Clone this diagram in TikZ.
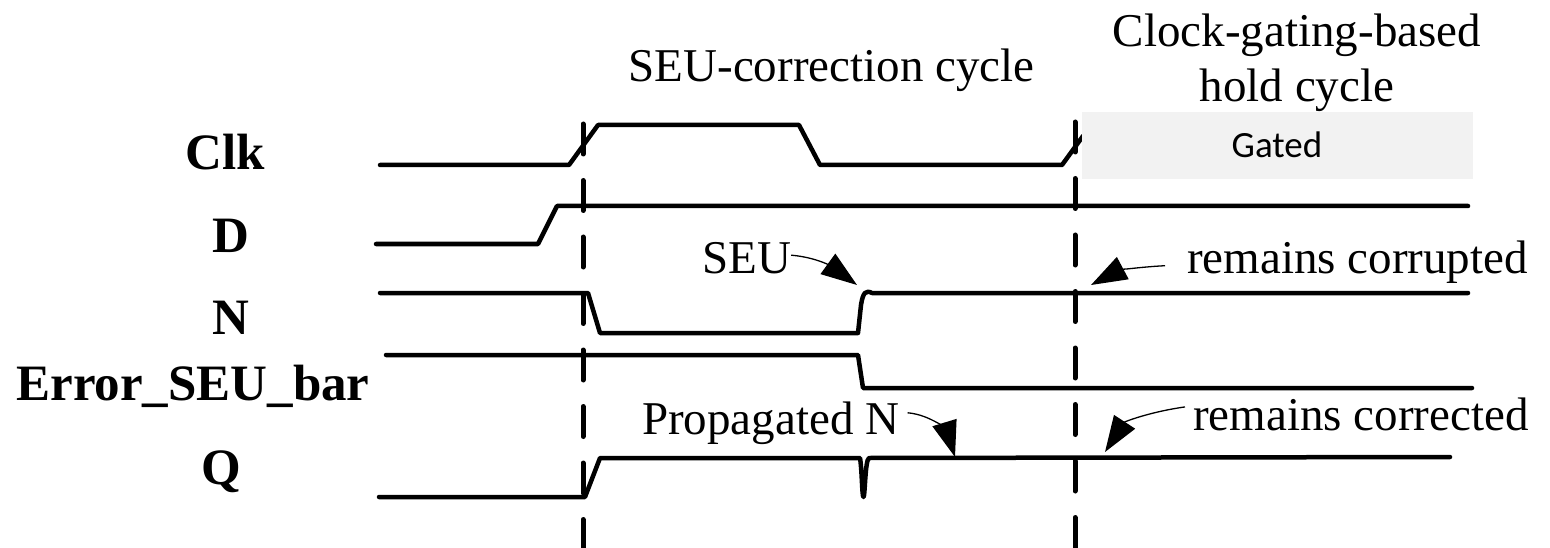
\documentclass[tikz,border=0pt]{standalone}
\usepackage{fontspec}
\setmainfont{Liberation Serif}
\newfontfamily\gatedfont{Carlito}
\usetikzlibrary{arrows.meta}
\tikzset{
  wave/.style={line width=4.5pt, line cap=round, line join=round},
  vline/.style={line width=5pt, line cap=round, dash pattern=on 30pt off 26.5pt},
  callout/.style={line width=1.3pt, -{Triangle[length=36pt,width=25pt]}},
  sig/.style={inner sep=0pt, anchor=base, font=\fontsize{51}{55}\selectfont\bfseries},
  txt/.style={inner sep=0pt, font=\fontsize{47}{55}\selectfont},
  gatebox/.style={fill=gray!10, draw=none}
}
\begin{document}
\begin{tikzpicture}[x=1pt,y=-1pt]
\useasboundingbox (0,0) rectangle (1550,548);
% signal names
\node[sig] (lclk) at (225,170) {Clk};
\node[sig] (ld) at (231,252) {D};
\node[sig] (ln) at (231,334) {N};
\node[sig] (lerr) at (193,400) {Error\_SEU\_bar};
\node[sig] (lq) at (221,484) {Q};
% titles
\node[txt, anchor=base] (t1) at (831.5,82) {SEU-correction cycle};
\node[txt, anchor=base] (t2a) at (1297,47) {Clock-gating-based};
\node[txt, anchor=base] (t2b) at (1297,102) {hold cycle};
% waveforms
\draw[wave] (380,165) -- (569,165) -- (598,125) -- (799,125) -- (820,165) -- (1062,165) -- (1083,136);
\draw[wave] (376,244) -- (538,244) -- (557,206) -- (1468,206);
\draw[wave] (380,293) -- (588,293) -- (600,333) -- (858,333) -- (861,305) .. controls (863,292) and (866,290) .. (872,293) -- (1468,293);
\draw[wave] (386,355) -- (858,355) -- (863,388) -- (1472,388);
\draw[wave] (379,497) -- (585,497) -- (600,458) -- (860,458) .. controls (862,470) and (862,497) .. (863.5,497) .. controls (865,497) and (865,460) .. (869,458) -- (1450,457);
% gated box
\node[gatebox, minimum width=391pt, minimum height=67pt, inner sep=0pt] (gbox) at (1277.5,145.5) {};
\node[inner sep=0pt, font=\gatedfont\fontsize{37}{40}\selectfont] (gtxt) at (1277,145) {Gated};
% cycle boundaries
\coordinate (b1t) at (583,124);
\coordinate (b1b) at (583,560);
\coordinate (b2t) at (1075,122);
\coordinate (b2b) at (1075,560);
\draw[vline] (b1t) -- (b1b);
\draw[vline] (b2t) -- (b2b);
% annotations
\node[txt, anchor=base west] (seu) at (702,273) {SEU};
\node[txt, anchor=base west] (prop) at (642,434) {Propagated N};
\node[txt, anchor=base west] (corrupt) at (1187,273) {remains corrupted};
\node[txt, anchor=base west] (correct) at (1193,430) {remains corrected};
\coordinate (seutip) at (857,285);
\coordinate (proptip) at (955,457);
\coordinate (corruptip) at (1091,285);
\coordinate (corrtip) at (1105,452);
\draw[callout] ([yshift=2.5pt]seu.east) to[out=-5,in=144] (seutip);
\draw[callout] ([shift={(8pt,10pt)}]prop.east) to[out=-5,in=107] (proptip);
\draw[callout] ([shift={(-22pt,-4pt)}]corrupt.west) to[out=183,in=28] (corruptip);
\draw[callout] ([shift={(-8pt,7pt)}]correct.west) to[out=188,in=57] (corrtip);
\end{tikzpicture}
\end{document}
